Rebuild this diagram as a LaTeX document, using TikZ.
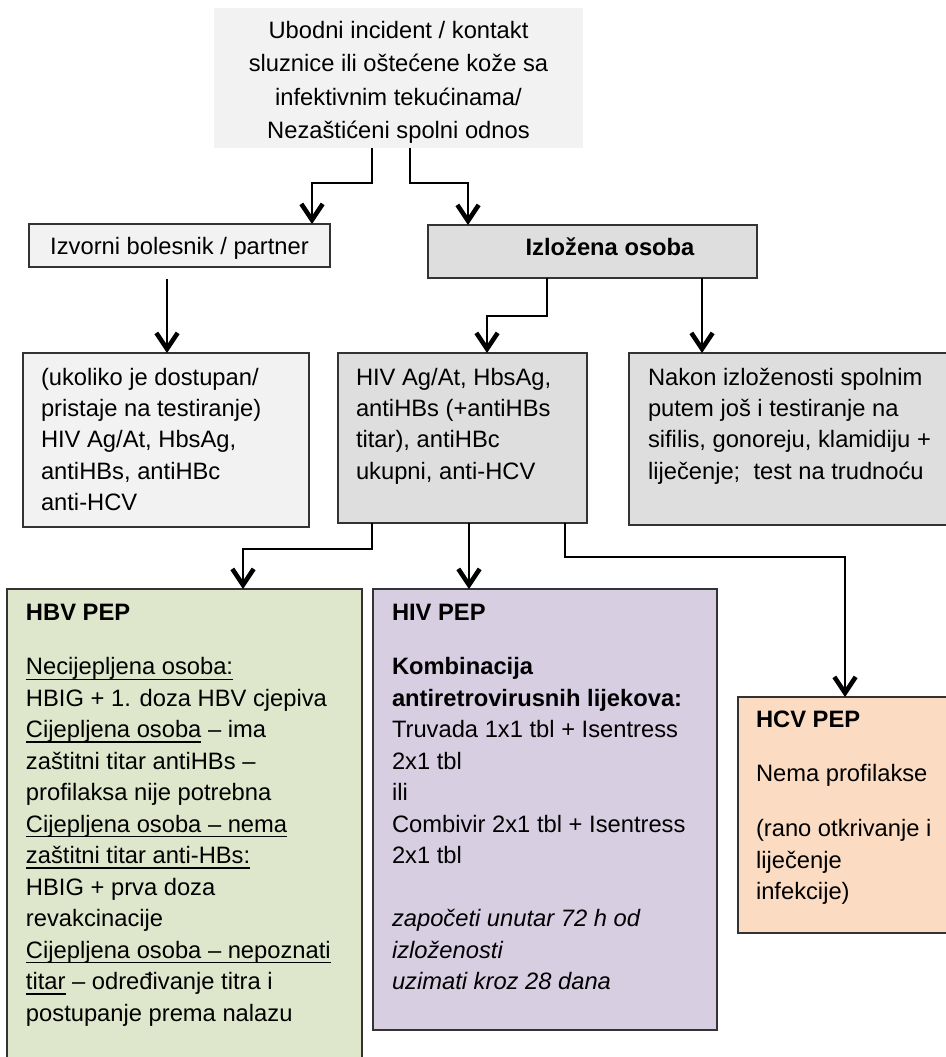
\documentclass[tikz,border=0pt]{standalone}
\usepackage{fontspec}
\setmainfont{Liberation Sans}
\usetikzlibrary{arrows.meta,fit}
\definecolor{lightbg}{HTML}{F2F2F2}
\definecolor{midbg}{HTML}{DEDEDE}
\definecolor{hbvbg}{HTML}{DEE6CB}
\definecolor{hivbg}{HTML}{D7CEE2}
\definecolor{hcvbg}{HTML}{FBDCC3}
\definecolor{edgecol}{HTML}{333333}
\newcommand\ulx[1]{\leavevmode\setbox0=\hbox{#1}\rlap{\rule[-3.7pt]{\wd0}{1pt}}\box0\relax}
\newcommand\bodyfont{\fontsize{17.8pt}{23.6pt}\selectfont}
\newcommand\para[1]{\parbox[t]{300pt}{\bodyfont\raggedright #1}}
\begin{document}
\begin{tikzpicture}[x=0.75pt,y=-0.75pt,
  box/.style={draw=edgecol, line width=0.8pt, inner sep=0pt, outer sep=0pt},
  txt/.style={anchor=base west, inner sep=0pt, outer sep=0pt},
  ctxt/.style={anchor=base, inner sep=0pt, outer sep=0pt},
  conn/.style={line width=1.7pt, line join=miter, -{Straight Barb[length=12pt,width=16pt,line width=3.4pt]}}]
\useasboundingbox (0,0) rectangle (946,1057);
% boxes
\node[fit={(214,8)(583,148)}, fill=lightbg, inner sep=0pt, outer sep=0pt] (top) {};
\node[box, fill=lightbg, fit={(29,224)(330,267)}] (izv) {};
\node[box, fill=midbg, fit={(428,225)(757,278)}] (izl) {};
\node[box, fill=lightbg, fit={(23,353)(309,527)}] (src) {};
\node[box, fill=midbg, fit={(338,353)(587,523)}] (mid) {};
\node[box, fill=midbg, fit={(629,353)(960,525)}] (sex) {};
\node[box, fill=hbvbg, fit={(7,589)(362,1070)}] (hbv) {};
\node[box, fill=hivbg, fit={(373,589)(717,1030)}] (hiv) {};
\node[box, fill=hcvbg, fit={(738,697)(960,933)}] (hcv) {};
% texts
\node[ctxt] (topT) at (398.5,38) {\parbox[t]{300pt}{\centering\fontsize{17.8pt}{25.2pt}\selectfont
Ubodni incident / kontakt\\
sluznice ili oštećene kože sa\\
infektivnim tekućinama/\\
Nezaštićeni spolni odnos}};
\node[ctxt] (izvT) at (179.5,254) {\bodyfont Izvorni bolesnik / partner};
\node[ctxt] (izlT) at (610,255) {\bodyfont\bfseries Izložena osoba};
\node[txt] (srcT) at (41,385) {\para{(ukoliko je dostupan/\\
pristaje na testiranje)\\
HIV Ag/At, HbsAg,\\
antiHBs, antiHBc\\
anti-HCV}};
\node[txt] (midT) at (356,385) {\para{HIV Ag/At, HbsAg,\\
antiHBs (+antiHBs\\
titar), antiHBc\\
ukupni, anti-HCV}};
\node[txt] (sexT) at (648,385) {\para{Nakon izloženosti spolnim\\
putem još i testiranje na\\
sifilis, gonoreju, klamidiju +\\
liječenje;~ test na trudnoću}};
\node[txt] (hbvT) at (26,620) {\para{\textbf{HBV PEP}\\[17.6pt]
\ulx{Necijepljena osoba:}\\
HBIG + 1. doza HBV cjepiva\\
\ulx{Cijepljena osoba} – ima\\
zaštitni titar antiHBs –\\
profilaksa nije potrebna\\
\ulx{Cijepljena osoba – nema}\\
\ulx{zaštitni titar anti-HBs:}\\
HBIG + prva doza\\
revakcinacije\\
\ulx{Cijepljena osoba – nepoznati}\\
\ulx{titar} – određivanje titra i\\
postupanje prema nalazu}};
\node[txt] (hivT) at (392,620) {\para{\textbf{HIV PEP}\\[17.6pt]
\textbf{Kombinacija}\\
\textbf{antiretrovirusnih lijekova:}\\
Truvada 1x1 tbl + Isentress\\
2x1 tbl\\
ili\\
Combivir 2x1 tbl + Isentress\\
2x1 tbl\\[23.6pt]
\textit{započeti unutar 72 h od}\\
\textit{izloženosti}\\
\textit{uzimati kroz 28 dana}}};
\node[txt] (hcvT) at (756,727) {\para{\textbf{HCV PEP}\\[17.6pt]
Nema profilakse\\[17.6pt]
(rano otkrivanje i\\
liječenje\\
infekcije)}};
% connectors
\coordinate (j1a) at (372,183); \coordinate (j1b) at (312,183);
\draw[conn] (top.south -| j1a) -- (j1a) -- (j1b) -- (izv.north -| j1b);
\coordinate (j2a) at (410,183); \coordinate (j2b) at (468,183);
\draw[conn] (top.south -| j2a) -- (j2a) -- (j2b) -- (izl.north -| j2b);
\coordinate (j3) at (167,279);
\draw[conn] (j3) -- (src.north -| j3);
\coordinate (j4a) at (547,316); \coordinate (j4b) at (487,316);
\draw[conn] (izl.south -| j4a) -- (j4a) -- (j4b) -- (mid.north -| j4b);
\coordinate (j5) at (702,300);
\draw[conn] (izl.south -| j5) -- (sex.north -| j5);
\coordinate (j6a) at (372,549); \coordinate (j6b) at (243,549);
\draw[conn] (mid.south -| j6a) -- (j6a) -- (j6b) -- (hbv.north -| j6b);
\coordinate (j7) at (469,560);
\draw[conn] (mid.south -| j7) -- (hiv.north -| j7);
\coordinate (j8a) at (565,557); \coordinate (j8b) at (845,557);
\draw[conn] (mid.south -| j8a) -- (j8a) -- (j8b) -- (hcv.north -| j8b);
\end{tikzpicture}
\end{document}
